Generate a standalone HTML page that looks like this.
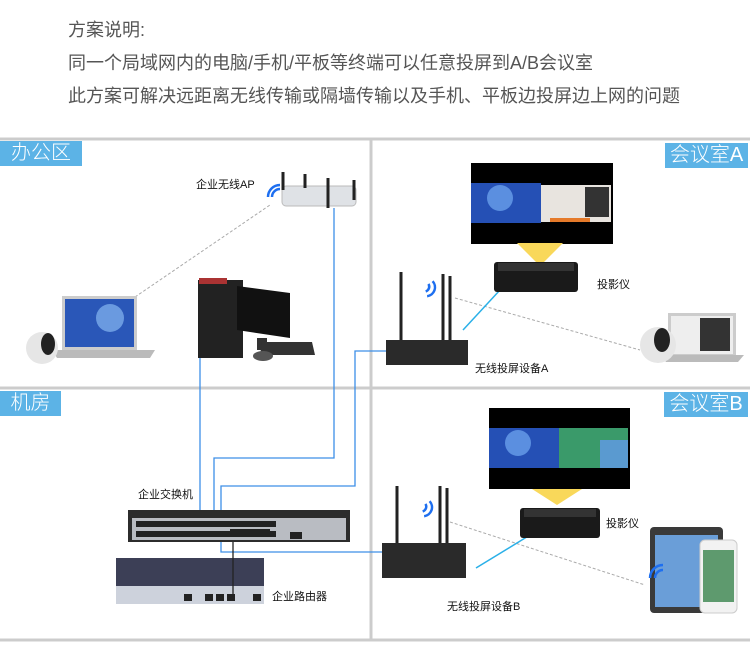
<!DOCTYPE html><html><head><meta charset="utf-8"><style>
body{margin:0;width:750px;height:648px;background:#fff;position:relative;overflow:hidden;font-family:"Liberation Sans","Noto Sans CJK SC",sans-serif}
.t{position:absolute;left:68px;font-size:18px;color:#555;white-space:nowrap}
.lb{position:absolute;background:#5cb3e6;color:#fff;font-size:20px;line-height:25px;height:25px;text-align:center;white-space:nowrap;font-weight:300}
.s{position:absolute;font-size:11px;color:#111;white-space:nowrap}
</style></head><body>
<div class="t" style="top:16px">方案说明:</div>
<div class="t" style="top:49px">同一个局域网内的电脑/手机/平板等终端可以任意投屏到A/B会议室</div>
<div class="t" style="top:82px">此方案可解决远距离无线传输或隔墙传输以及手机、平板边投屏边上网的问题</div>
<svg width="750" height="648" style="position:absolute;left:0;top:0">
<g stroke="#ccc" stroke-width="3"><line x1="0" y1="139" x2="750" y2="139"/><line x1="0" y1="388" x2="750" y2="388"/><line x1="0" y1="640" x2="750" y2="640"/><line x1="371" y1="139" x2="371" y2="640"/></g>
<g stroke="#aaa" stroke-dasharray="3,2" fill="none"><line x1="135" y1="297" x2="270" y2="205"/><line x1="455" y1="298" x2="640" y2="350"/><line x1="450" y1="522" x2="645" y2="585"/></g>
<g stroke="#3d8fe8" stroke-width="1.3" fill="none">
<polyline points="200,358 200,522"/><polyline points="334,208 334,458 214,458 214,522"/>
<polyline points="386,351 355,351 355,486 221,486 221,522"/><polyline points="221,540 221,552 382,552"/></g>
<g stroke="#2ab0e8" stroke-width="1.5"><line x1="463" y1="330" x2="500" y2="290"/><line x1="476" y1="568" x2="530" y2="535"/></g>
<g><rect x="282" y="186" width="74" height="20" rx="4" fill="#dfe2e6" stroke="#bbb"/><g stroke="#222" stroke-width="3"><line x1="283" y1="172" x2="283" y2="190"/><line x1="305" y1="174" x2="305" y2="188"/><line x1="328" y1="178" x2="328" y2="208"/><line x1="354" y1="180" x2="354" y2="200"/></g>
<path d="M272 197 a8 8 0 0 1 8 -8 M268 197 a12 12 0 0 1 12 -12" stroke="#1e6ff0" stroke-width="2.5" fill="none"/></g>
<rect x="62" y="296" width="75" height="55" fill="#ccc"/><rect x="65" y="299" width="69" height="48" fill="#2a57b8"/><circle cx="110" cy="318" r="14" fill="#6a9ae0"/><path d="M52 350 L155 350 L150 358 L57 358Z" fill="#bbb"/>
<circle cx="42" cy="348" r="16" fill="#e6e6e6"/><ellipse cx="48" cy="344" rx="7" ry="11" fill="#222"/>
<rect x="198" y="280" width="45" height="78" fill="#222"/><rect x="199" y="278" width="28" height="6" fill="#a33"/><polygon points="237,286 290,293 290,338 237,330" fill="#111"/><rect x="257" y="338" width="10" height="12" fill="#333"/><polygon points="262,342 312,342 315,355 260,355" fill="#333"/><ellipse cx="263" cy="356" rx="10" ry="5" fill="#555"/>
<rect x="471" y="163" width="142" height="81" fill="#000"/><rect x="471" y="183" width="70" height="40" fill="#2550b5"/><circle cx="500" cy="198" r="13" fill="#5b8fe0"/><rect x="541" y="185" width="70" height="37" fill="#e8e4df"/><rect x="585" y="187" width="24" height="30" fill="#333"/><rect x="550" y="218" width="40" height="4" fill="#e57a2a"/>
<polygon points="517,243 563,243 540,266" fill="#f9d85a"/>
<rect x="494" y="262" width="84" height="30" rx="3" fill="#1a1a1a"/><rect x="498" y="263" width="76" height="8" fill="#333"/>
<rect x="386" y="340" width="82" height="25" fill="#2a2a2a"/><g stroke="#222" stroke-width="3"><line x1="401" y1="272" x2="401" y2="340"/><line x1="443" y1="274" x2="443" y2="340"/><line x1="450" y1="276" x2="450" y2="340"/></g>
<path d="M427 292 a5 5 0 0 0 0 -8 M430 296 a9 9 0 0 0 0 -16" stroke="#1e6ff0" stroke-width="2.5" fill="none" transform="rotate(20 428 288)"/>
<rect x="668" y="313" width="68" height="44" fill="#ccc"/><rect x="671" y="316" width="62" height="38" fill="#eee"/><rect x="700" y="318" width="30" height="33" fill="#333"/><path d="M660 355 L744 355 L738 362 L666 362Z" fill="#bbb"/>
<circle cx="658" cy="345" r="18" fill="#e6e6e6"/><ellipse cx="662" cy="340" rx="8" ry="12" fill="#222"/>
<rect x="489" y="408" width="141" height="81" fill="#000"/><rect x="489" y="428" width="70" height="40" fill="#2550b5"/><circle cx="518" cy="443" r="13" fill="#5b8fe0"/><rect x="559" y="428" width="69" height="40" fill="#3a9a6a"/><rect x="600" y="440" width="28" height="28" fill="#5a9ad0"/>
<polygon points="532,489 582,489 557,505" fill="#f9d85a"/>
<rect x="520" y="508" width="80" height="30" rx="3" fill="#1a1a1a"/><rect x="524" y="509" width="72" height="8" fill="#333"/>
<rect x="382" y="543" width="84" height="35" fill="#2a2a2a"/><g stroke="#222" stroke-width="3"><line x1="397" y1="486" x2="397" y2="543"/><line x1="440" y1="486" x2="440" y2="543"/><line x1="447" y1="488" x2="447" y2="543"/></g>
<path d="M424 512 a5 5 0 0 0 0 -8 M427 516 a9 9 0 0 0 0 -16" stroke="#1e6ff0" stroke-width="2.5" fill="none" transform="rotate(20 425 508)"/>
<rect x="650" y="527" width="73" height="86" rx="4" fill="#3a3a3a"/><rect x="655" y="535" width="63" height="72" fill="#6a9ed8"/><rect x="700" y="540" width="37" height="73" rx="5" fill="#f2f2f2" stroke="#ccc"/><rect x="703" y="550" width="31" height="52" fill="#5e9a6e"/>
<path d="M655 578 a8 8 0 0 1 8 -8 M650 578 a13 13 0 0 1 13 -13" stroke="#1e6ff0" stroke-width="2.5" fill="none"/>
<rect x="128" y="510" width="222" height="32" fill="#2c2c2c"/><rect x="132" y="518" width="214" height="22" fill="#b9bcc2"/>
<g fill="#222"><rect x="136" y="521" width="140" height="6"/><rect x="136" y="531" width="140" height="6"/><rect x="230" y="529" width="40" height="8"/><rect x="290" y="532" width="12" height="7"/></g>
<rect x="116" y="558" width="148" height="46" fill="#3c3f56"/><rect x="116" y="586" width="148" height="18" fill="#cdd2dc"/><g fill="#222"><rect x="184" y="594" width="8" height="7"/><rect x="205" y="594" width="8" height="7"/><rect x="216" y="594" width="8" height="7"/><rect x="227" y="594" width="8" height="7"/><rect x="253" y="594" width="8" height="7"/></g>
<line x1="233" y1="542" x2="233" y2="598" stroke="#222" stroke-width="1.3"/>
</svg>
<div class="lb" style="left:0;top:141px;width:82px">办公区</div>
<div class="lb" style="left:665px;top:143px;width:83px">会议室A</div>
<div class="lb" style="left:0;top:391px;width:61px">机房</div>
<div class="lb" style="left:664px;top:392px;width:84px">会议室B</div>
<div class="s" style="left:196px;top:176px">企业无线AP</div>
<div class="s" style="left:597px;top:276px">投影仪</div>
<div class="s" style="left:475px;top:360px">无线投屏设备A</div>
<div class="s" style="left:606px;top:515px">投影仪</div>
<div class="s" style="left:447px;top:598px">无线投屏设备B</div>
<div class="s" style="left:138px;top:486px">企业交换机</div>
<div class="s" style="left:272px;top:588px">企业路由器</div>
</body></html>
